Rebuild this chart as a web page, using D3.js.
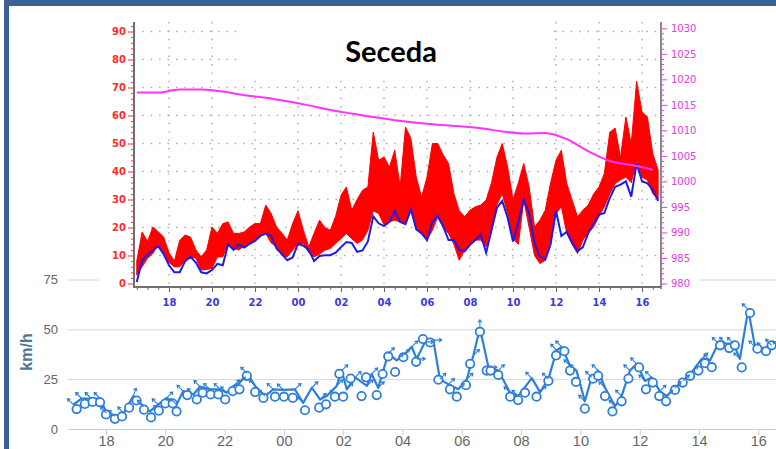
<!DOCTYPE html>
<html><head><meta charset="utf-8">
<script src="https://cdn.jsdelivr.net/npm/d3@7"></script>
<style>html,body{margin:0;padding:0;background:#fff;}svg{display:block;}</style>
</head><body>
<svg id="c" width="776" height="449"></svg>
<script>
// ---------------- DATA ----------------
// Upper chart (station Seceda): time in hours (18 = 18:00, 24 = 00:00 next day, ...)
const upperStart = 16.5, upperStep = 0.25;
const windAvg = [
  0.5, 8.3,
  10.3, 11.8, 13.3, 10.5,
  6.5, 4, 4, 8,
  9.5, 7.5, 4, 3.6,
  4.8, 7, 6.5, 14,
  12, 14, 12.8, 14.2,
  15.2, 17, 17.8, 17,
  12.5, 10.5, 8.3, 9.3,
  14.2, 13.5, 12, 8,
  9.8, 10.1, 10.1, 11,
  13, 14.8, 14.5, 11.3,
  11.8, 15, 24, 21.5,
  20.5, 22, 26, 22,
  21.2, 26.5, 19.3, 17.9,
  15.5, 22, 24, 20.5,
  15.5, 15.5, 12, 11.5,
  13.8, 15.5, 17.5, 11,
  19, 27, 29.5, 23.5,
  15, 22, 30, 25,
  14.5, 9.5, 8.5, 14,
  26, 17, 18.5, 14.5,
  11.5, 13, 18, 21.5,
  24.5, 25.2, 30.5, 34.5,
  35.3, 36.5, 31, 42.9,
  36.5, 35.8, 33.5, 29.5
];
const gustHigh = [
  8, 18.4,
  15, 20.2, 18.5, 16.6,
  11, 8, 15.5, 17.3,
  16.6, 12, 9.5, 12,
  20.2, 17.9, 21.4, 22,
  17.9, 17.9, 18.4, 20.2,
  21.4, 21.4, 28, 25,
  20.2, 18, 15.5, 21.4,
  26, 19, 13.1, 18,
  22.6, 20, 19, 24,
  31.5, 34.5, 26.2, 30,
  33.3, 34.5, 54.1, 44,
  45.2, 41.6, 47.6, 34.5,
  55.9, 51.8, 38, 30.9,
  38, 50, 50, 46,
  42.9, 32.1, 26, 23.8,
  26.2, 27.4, 28, 29.8,
  36, 45, 50, 41.6,
  30, 36, 42.9, 34.5,
  20.2, 22.6, 26.2, 36,
  44, 47.6, 35.7, 29.8,
  23.8, 26.2, 28, 32,
  34.5, 39.3, 54, 55.5,
  45, 59.5, 50, 72.2,
  61.3, 59.5, 46.4, 40.5
];
const gustLow = [
  3, 6,
  9, 10.7, 14, 11,
  7.5, 5.9, 6, 8.3,
  9.5, 9, 4.8, 5,
  5.4, 9.5, 9.5, 14.3,
  12.5, 12, 13.5, 14.3,
  15.5, 17, 17.9, 14.5,
  13.1, 10, 9.5, 11.9,
  14.3, 14.3, 11, 9.5,
  10.5, 11.9, 12.5, 14.3,
  16, 17.9, 16, 14.3,
  15.5, 19, 26, 25,
  21, 22, 22.6, 22,
  21.4, 26.2, 19.5, 17.9,
  15.5, 19, 23.8, 20,
  17.9, 14, 8.3, 12,
  14.3, 15.5, 15.5, 13.1,
  20, 28, 32.1, 25,
  16, 14, 29.8, 20,
  10, 7.1, 8.3, 16,
  25, 27.4, 17.9, 14,
  10.7, 15.5, 18, 20.2,
  24, 27.4, 32, 35.7,
  37, 38, 36, 44,
  38, 36.9, 32.1, 30
];
const pressureStart = 16.5, pressureStep = 1;
const pressureHpa = [1017.4, 1017.4, 1018, 1018, 1017.6, 1016.9, 1016.4, 1015.7, 1014.9, 1014,
  1013.3, 1012.6, 1012, 1011.5, 1011.1, 1010.8, 1010.4, 1009.8, 1009.4, 1009.5,
  1008.3, 1005.9, 1004, 1003.2, 1002.3];
const upperTitle = "Seceda";
const hourTicks = [18, 20, 22, 24, 26, 28, 30, 32, 34, 36, 38, 40];
const windTicks = [0, 10, 20, 30, 40, 50, 60, 70, 80, 90];
const pressureTicks = [980, 985, 990, 995, 1000, 1005, 1010, 1015, 1020, 1025, 1030];

// Lower chart: wind line with direction arrows, and observation circles (km/h)
const lowerLineHours = [16.9,17.18,17.5,17.8,18.02,18.3,18.6,18.92,19.26,19.48,
  19.76,20.05,20.38,20.6,20.95,21.17,21.5,21.85,22.07,22.3,
  22.5,22.75,23.03,23.36,23.64,23.98,24.37,24.65,24.94,25.22,
  25.44,25.78,25.95,26.12,26.4,26.8,26.96,27.18,27.52,27.8,
  28.03,28.31,28.48,28.76,29.04,29.26,29.55,29.88,30.17,30.39,
  30.61,30.9,31.23,31.63,31.9,32.36,32.64,32.92,33.2,33.37,
  33.65,33.87,34.15,34.38,34.6,34.83,35.17,35.39,35.67,35.9,
  36.18,36.4,36.68,36.91,37.19,37.47,37.75,38.09,38.37,38.65,
  38.9,39.16,39.38,39.66,39.89,40.17,40.45,40.7];
const lowerLineKmh = [12.2,15.3,15.3,15.3,8,6.3,8,16.5,11.4,8.8,
  12.2,15.6,12.2,19,17.3,21.3,19.9,19.9,18.2,21.6,
  23,28,21.6,16.5,19.9,19.6,19.9,13.1,20.7,14.8,
  16.5,21.6,29.3,19.9,25.9,21.6,27.6,20.7,37.8,34.4,
  36.9,41.2,35.2,43.7,44.6,25,22.4,19.9,25,36.9,
  50.5,31,29.3,18.2,16.5,25.5,18.5,25,39.5,41.2,
  31.8,29.3,13.9,25.9,29.3,20.7,11.4,16.5,29.3,32.7,
  24.1,25.9,19,16.5,20.7,24.1,28.4,35.2,34.4,42.9,
  42.9,42.9,35.2,59.9,41.2,40.3,42,41];
const lowerDirDeg = [315,315,315,315,315,315,315,20,315,45,
  315,45,315,315,315,315,315,315,315,45,
  45,315,315,315,315,315,45,315,45,45,
  45,45,45,45,45,45,45,45,45,45,
  45,45,90,90,90,45,45,45,45,45,
  0,90,45,315,315,315,45,315,315,315,
  315,315,315,315,315,315,315,315,315,315,
  315,315,45,45,45,45,45,45,315,315,
  315,315,315,315,315,315,315,315];
const lowerObsHours = [17.01,17.29,17.55,17.8, 18.0,18.3,18.54,18.78, 19.03,19.28,19.52,19.78,
  20.0,20.25,20.38,20.74, 21.06,21.26,21.53,21.79, 22.02,22.27,22.5,22.75,
  23.03,23.31,23.7, 24.0,24.3,24.71, 25.19,25.42,25.72,25.87, 26.0,26.25,26.62,26.77,
  27.13,27.33,27.52,27.75, 28.03,28.46,28.69,28.93, 29.21,29.6,29.83,
  30.14,30.28,30.61,30.84,30.97, 31.23,31.63,31.9, 32.13,32.52,32.92,
  33.18,33.46,33.65,33.85, 34.15,34.43,34.6,34.83, 35.08,35.39,35.62,35.98,
  36.21,36.44,36.66,36.89, 37.19,37.45,37.7,37.98, 38.2,38.43,38.71,
  39.02,39.21,39.44,39.72,39.97, 40.26,40.45];
const lowerObsKmh = [10,12.6,13.6,13.4, 7.3,5.1,6.3,10.7, 14.3,9.7,5.8,9.2,
  12.8,12.8,8.8,17, 14.8,18.2,17.3,17.3, 14.8,19,19.9,26.7,
  18.5,15.6,16.2, 16.2,15.6,9.4, 10.7,12.4,16.2,27.7, 16.2,25.3,16.5,25.9,
  17,27.6,36.4,28.6, 36,33.7,45.1,43.4, 24.7,19.9,16.2,
  22,32.7,48.8,29.3,29.3, 27.1,16.2,14.5, 18.2,16.2,24.1,
  36.9,39,29.3,23.6, 10.2,25.2,26.7,16.5, 8.8,13.9,25.3,30.9,
  19.9,23.3,16.5,13.9, 19.6,23.3,26.7,29.3, 33,31,42,
  40.6,42,30.9,58.2,40.3, 39,42];
const lowerKmhTicks = [0, 25, 50, 75];
const lowerAxisTitle = "km/h";

const hourLabel = h => String(h % 24).padStart(2, "0");

// ---------------- DRAW ----------------
(function () {
const svg = d3.select("#c");

// ===== Lower chart =====
const xL = d3.scaleLinear().domain([18, 40]).range([106, 758.3]);
const yK = d3.scaleLinear().domain([0, 75]).range([429, 279.5]);
const lower = svg.append("g");
lower.append("defs").append("clipPath").attr("id", "clipL")
  .append("rect").attr("x", 60).attr("y", 250).attr("width", 716).attr("height", 199);

lower.append("g")
  .attr("transform", "translate(68,0)")
  .call(d3.axisLeft(yK).tickValues(lowerKmhTicks.filter(v => v > 0)).tickSize(-708).tickFormat(""))
  .call(g => g.select(".domain").remove())
  .call(g => g.selectAll("line").attr("stroke", "#d6d6d6").attr("stroke-width", 1));
lower.append("g")
  .attr("transform", "translate(68,0)")
  .call(d3.axisLeft(yK).tickValues(lowerKmhTicks).tickSize(0).tickPadding(10))
  .call(g => g.select(".domain").remove())
  .call(g => g.selectAll("text").attr("fill", "#666").attr("font-size", 13)
    .attr("font-family", "'Liberation Sans', Arial, sans-serif"));
lower.append("g")
  .attr("transform", `translate(0,${yK(0)})`)
  .call(d3.axisBottom(xL).tickValues(hourTicks).tickSize(6).tickPadding(0.5).tickFormat(hourLabel))
  .call(g => g.select(".domain").attr("d", `M68,0.5H776`).attr("stroke", "#c0d0e0"))
  .call(g => g.selectAll("line").attr("stroke", "#c0d0e0"))
  .call(g => g.selectAll("text").attr("fill", "#666").attr("font-size", 14.5)
    .attr("font-family", "'Liberation Sans', Arial, sans-serif"));
lower.append("text")
  .attr("transform", "translate(32,352) rotate(-90)")
  .attr("text-anchor", "middle")
  .attr("fill", "#4d759e").attr("font-weight", "bold").attr("font-size", 16)
  .attr("font-family", "'Liberation Sans', Arial, sans-serif")
  .text(lowerAxisTitle);

const lineData = d3.zip(lowerLineHours, lowerLineKmh, lowerDirDeg);
const obsData = d3.zip(lowerObsHours, lowerObsKmh);
const plotL = lower.append("g").attr("clip-path", "url(#clipL)");
const blueL = "#2f7ed8";
plotL.append("path")
  .datum(lineData)
  .attr("fill", "none").attr("stroke", blueL).attr("stroke-width", 2.2)
  .attr("stroke-linejoin", "round")
  .attr("d", d3.line().x(d => xL(d[0])).y(d => yK(d[1])));
plotL.selectAll("circle.obs").data(obsData).join("circle")
  .attr("class", "obs")
  .attr("cx", d => xL(d[0])).attr("cy", d => yK(d[1])).attr("r", 4.2)
  .attr("fill", "#fff").attr("stroke", blueL).attr("stroke-width", 1.8);
const arrowLen = 8.5, headLen = 3.3;
plotL.selectAll("path.arr").data(lineData).join("path")
  .attr("class", "arr")
  .attr("fill", "none").attr("stroke", blueL).attr("stroke-width", 1.1)
  .attr("d", d => {
    const x = xL(d[0]), y = yK(d[1]);
    const a = d[2] * Math.PI / 180;
    const ux = Math.sin(a), uy = -Math.cos(a);
    const tx = x + arrowLen * ux, ty = y + arrowLen * uy;
    const h1 = a + Math.PI - 0.6, h2 = a + Math.PI + 0.6;
    return `M${x},${y}L${tx},${ty}M${tx + headLen * Math.sin(h1)},${ty - headLen * Math.cos(h1)}L${tx},${ty}L${tx + headLen * Math.sin(h2)},${ty - headLen * Math.cos(h2)}`;
  });

// ===== Upper chart =====
svg.append("rect").attr("x", 99).attr("y", 6).attr("width", 601).attr("height", 306).attr("fill", "#fff");

const xU = d3.scaleLinear().domain([18, 40]).range([169, 642]);
const yW = d3.scaleLinear().domain([0, 90]).range([283.5, 31.5]);
const yP = d3.scaleLinear().domain([980, 1030]).range([283.5, 28.3]);
const pL = 134, pR = 661, pT = 22, pB = 287;
const upper = svg.append("g");
upper.append("defs").append("clipPath").attr("id", "clipU")
  .append("rect").attr("x", pL + 1).attr("y", pT).attr("width", pR - pL - 2).attr("height", pB - pT);

const grid = upper.append("g").attr("stroke", "#a8a8a8").attr("stroke-width", 1.4).attr("stroke-dasharray", "1.4,7");
grid.selectAll("line.h").data(windTicks.filter(v => v > 0)).join("line").attr("class", "h")
  .attr("x1", pL).attr("x2", pR).attr("y1", d => yW(d)).attr("y2", d => yW(d));
grid.selectAll("line.v").data(hourTicks).join("line").attr("class", "v")
  .attr("x1", d => xU(d)).attr("x2", d => xU(d)).attr("y1", pT).attr("y2", pB);

upper.append("rect").attr("x", 237).attr("y", 14).attr("width", 311).attr("height", 66).attr("fill", "#fff");
upper.append("text").attr("x", 391).attr("y", 62).attr("text-anchor", "middle")
  .attr("font-family", "Lato, 'Open Sans', sans-serif").attr("font-weight", "bold").attr("font-size", 29)
  .attr("fill", "#000").text(upperTitle);

const tU = i => upperStart + i * upperStep;
const plotU = upper.append("g").attr("clip-path", "url(#clipU)");
const gust = gustHigh.map((h, i) => [tU(i), gustLow[i], h]);
plotU.append("path").datum(gust)
  .attr("fill", "#ff0000").attr("stroke", "#ff0000").attr("stroke-width", 1)
  .attr("d", d3.area().x(d => xU(d[0])).y0(d => yW(d[1])).y1(d => yW(d[2])));
plotU.append("path").datum(windAvg.map((v, i) => [tU(i), v]))
  .attr("fill", "none").attr("stroke", "#1c1ce6").attr("stroke-width", 2)
  .attr("d", d3.line().x(d => xU(d[0])).y(d => yW(d[1])));
plotU.append("path").datum(pressureHpa.map((p, i) => [pressureStart + i * pressureStep, p]))
  .attr("fill", "none").attr("stroke", "#ff33ff").attr("stroke-width", 2)
  .attr("d", d3.line().curve(d3.curveMonotoneX).x(d => xU(d[0])).y(d => yP(d[1])));

const font = "'DejaVu Sans', Verdana, sans-serif";
upper.append("g").attr("transform", `translate(${pL},0)`)
  .call(d3.axisLeft(yW).tickValues(d3.range(0, 93, 2).filter(v => v % 10 !== 0)).tickSize(3).tickFormat(""))
  .call(g => g.select(".domain").remove())
  .call(g => g.selectAll("line").attr("stroke", "#ff3030"));
upper.append("g").attr("transform", `translate(${pL},0)`)
  .call(d3.axisLeft(yW).tickValues(windTicks).tickSize(6).tickPadding(2).tickFormat(d3.format("d")))
  .call(g => g.select(".domain").remove())
  .call(g => g.selectAll("line").attr("stroke", "#ff3030"))
  .call(g => g.selectAll("text").attr("fill", "#ff2a2a").attr("font-size", 10).attr("font-weight", "bold").attr("font-family", font));
upper.append("g").attr("transform", `translate(${pR},0)`)
  .call(d3.axisRight(yP).tickValues(d3.range(980, 1031, 1).filter(v => v % 5 !== 0)).tickSize(3).tickFormat(""))
  .call(g => g.select(".domain").remove())
  .call(g => g.selectAll("line").attr("stroke", "#e040e0"));
upper.append("g").attr("transform", `translate(${pR},0)`)
  .call(d3.axisRight(yP).tickValues(pressureTicks).tickSize(6).tickPadding(4).tickFormat(d3.format("d")))
  .call(g => g.select(".domain").remove())
  .call(g => g.selectAll("line").attr("stroke", "#e040e0"))
  .call(g => g.selectAll("text").attr("fill", "#e040e0").attr("font-size", 10).attr("font-family", font));
upper.append("g").attr("transform", `translate(0,${pB})`)
  .call(d3.axisBottom(xU).tickValues(d3.range(16.5, 41, 0.5).filter(v => v % 2 !== 0)).tickSize(3).tickFormat(""))
  .call(g => g.select(".domain").remove())
  .call(g => g.selectAll("line").attr("stroke", "#666"));
upper.append("g").attr("transform", `translate(0,${pB})`)
  .call(d3.axisBottom(xU).tickValues(hourTicks).tickSize(5).tickPadding(7).tickFormat(hourLabel))
  .call(g => g.select(".domain").remove())
  .call(g => g.selectAll("line").attr("stroke", "#666"))
  .call(g => g.selectAll("text").attr("fill", "#3a3ae0").attr("font-size", 10).attr("font-weight", "bold").attr("font-family", font));
upper.append("line").attr("x1", pL).attr("x2", pL).attr("y1", pT).attr("y2", pB + 1).attr("stroke", "#707070").attr("stroke-width", 2);
upper.append("line").attr("x1", pR).attr("x2", pR).attr("y1", pT).attr("y2", pB + 2).attr("stroke", "#8a8a8a").attr("stroke-width", 2);
upper.append("line").attr("x1", pL).attr("x2", pR).attr("y1", pB).attr("y2", pB).attr("stroke", "#707070").attr("stroke-width", 2);

// ===== frame =====
svg.append("rect").attr("x", 4).attr("y", 0).attr("width", 5).attr("height", 449).attr("fill", "#3a6192");
svg.append("rect").attr("x", 4).attr("y", 0).attr("width", 772).attr("height", 6).attr("fill", "#3a6192");
})();
</script>
</body></html>
